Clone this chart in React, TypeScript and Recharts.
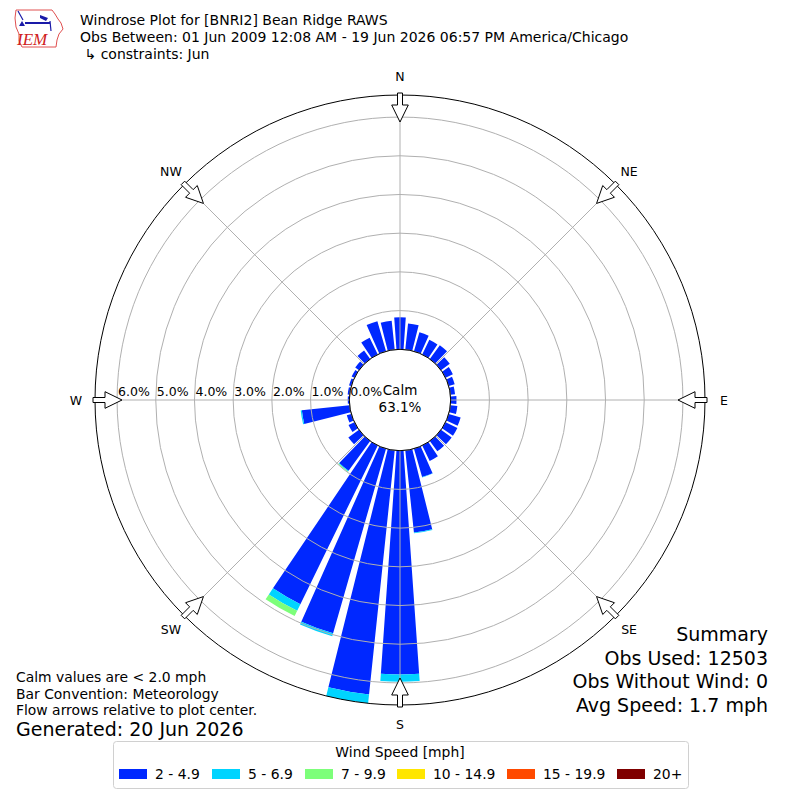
import React from 'react';
import { RadialBarChart, RadialBar, PolarAngleAxis, PolarRadiusAxis, PolarGrid } from 'recharts';

// ---- data ----
const directions = [0, 10, 20, 30, 40, 50, 60, 70, 80, 90, 100, 110, 120, 130, 140, 150, 160, 170,
  180, 190, 200, 210, 220, 230, 240, 250, 260, 270, 280, 290, 300, 310, 320, 330, 340, 350];
const speed2to5 = [0.83, 0.68, 0.51, 0.42, 0.44, 0.28, 0.21, 0.16, 0.12, 0.15, 0.18, 0.32, 0.34, 0.34, 0.33, 0.44, 0.76, 2.13,
  5.78, 6.34, 4.96, 4.56, 0.95, 0.34, 0.17, 0.12, 1.24, 0.04, 0.05, 0.06, 0.08, 0.12, 0.27, 0.48, 0.81, 0.75];
const speed5to7 = [0, 0, 0, 0, 0, 0, 0, 0, 0, 0, 0, 0, 0, 0, 0, 0, 0.01, 0.02,
  0.19, 0.23, 0.08, 0.19, 0.02, 0, 0, 0, 0.03, 0, 0, 0, 0, 0, 0, 0, 0, 0];
const speed7to10 = [0, 0, 0, 0, 0, 0, 0, 0, 0, 0, 0, 0, 0, 0, 0, 0, 0, 0,
  0, 0, 0, 0.15, 0.02, 0, 0, 0, 0, 0, 0, 0, 0, 0, 0, 0, 0, 0];
const radiusTicks = [0, 1, 2, 3, 4, 5, 6];
const binLabels = ['2 - 4.9', '5 - 6.9', '7 - 9.9', '10 - 14.9', '15 - 19.9', '20+'];
const binColors = ['#0028ff', '#00d4ff', '#7dff7a', '#ffe600', '#ff4a00', '#7f0000'];
const compassNames = ['N', 'NE', 'E', 'SE', 'S', 'SW', 'W', 'NW'];
const compassAngles = [0, 45, 90, 135, 180, 225, 270, 315];
const calmPercent = '63.1%';
const titleLines = [
  'Windrose Plot for [BNRI2] Bean Ridge RAWS',
  'Obs Between: 01 Jun 2009 12:08 AM - 19 Jun 2026 06:57 PM America/Chicago',
  ' \u21B3 constraints: Jun',
];
const noteLines = ['Calm values are < 2.0 mph', 'Bar Convention: Meteorology', 'Flow arrows relative to plot center.'];
const generated = 'Generated: 20 Jun 2026';
const summaryLines = ['Summary', 'Obs Used: 12503', 'Obs Without Wind: 0', 'Avg Speed: 1.7 mph'];

const data = directions.map((d, i) => ({ dir: d, s1: speed2to5[i], s2: speed5to7[i], s3: speed7to10[i] }));
const RMAX = Math.max(...data.map((r) => r.s1 + r.s2 + r.s3));

// plain linear scale (no "nice" rounding), so the outer circle equals the largest bar like the windrose library
function linearScale(d: number[] = [0, 1], r: number[] = [0, 1]): any {
  const s: any = (v: number) => r[0] + ((v - d[0]) / (d[1] - d[0])) * (r[1] - r[0]);
  s.domain = (nd?: number[]) => (nd === undefined ? d.slice() : linearScale(nd.slice(), r));
  s.range = (nr?: number[]) => (nr === undefined ? r.slice() : linearScale(d, nr.slice()));
  s.copy = () => linearScale(d, r);
  s.nice = () => s;
  s.ticks = () => radiusTicks.filter((t) => t >= d[0] && t <= d[1]);
  s.tickFormat = () => (v: number) => String(v);
  return s;
}

// ---- layout ----
const W = 800;
const H = 800;
const CX = 400;
const CY = 400;
const R_IN = 50.7;
const R_OUT = 305;
const FONT = '"DejaVu Sans", sans-serif';

const RadiusTick = (props: any) => {
  const { x, y, payload } = props;
  return (
    <text x={x + 1} y={y - 4} textAnchor="start" fontSize={12.5} fontFamily={FONT} fill="#000">
      {`${Number(payload.value).toFixed(1)}%`}
    </text>
  );
};

const arrowPath = (c: number) => {
  const rad = (c * Math.PI) / 180;
  const u = [Math.sin(rad), -Math.cos(rad)];
  const p = [Math.cos(rad), Math.sin(rad)];
  const pt = (r: number, o: number) => `${CX + u[0] * r + p[0] * o},${CY + u[1] * r + p[1] * o}`;
  const pts = [
    pt(R_OUT + 2, -2.5), pt(R_OUT - 10, -2.5), pt(R_OUT - 10, -8.3), pt(R_OUT - 27, 0),
    pt(R_OUT - 10, 8.3), pt(R_OUT - 10, 2.5), pt(R_OUT + 2, 2.5),
  ];
  return `M${pts.join(' L')} Z`;
};

const chartProps = {
  width: W,
  height: H,
  cx: CX,
  cy: CY,
  data,
  layout: 'centric' as const,
  innerRadius: R_IN,
  outerRadius: R_OUT,
  startAngle: 85,
  endAngle: -275,
  barCategoryGap: '10%',
  margin: { top: 0, right: 0, bottom: 0, left: 0 },
};

const Overlay = () => (
  <svg width={W} height={H} style={{ position: 'absolute', left: 0, top: 0, pointerEvents: 'none' }}>
    {/* calm circle edge + text */}
    <circle cx={CX} cy={CY} r={R_IN} fill="none" stroke="#000" strokeWidth={1} />
    <text x={CX} y={CY - 5} textAnchor="middle" fontSize={13.5} fontFamily={FONT}>Calm</text>
    <text x={CX} y={CY + 12} textAnchor="middle" fontSize={13.5} fontFamily={FONT}>{calmPercent}</text>
    {/* compass arrows and labels */}
    {compassAngles.map((c, i) => {
      const rad = (c * Math.PI) / 180;
      return (
        <g key={c}>
          <path d={arrowPath(c)} fill="#fff" stroke="#000" strokeWidth={1} />
          <text x={CX + Math.sin(rad) * 324} y={CY - Math.cos(rad) * 324 + 5} textAnchor="middle"
            fontSize={12.5} fontFamily={FONT}>{compassNames[i]}</text>
        </g>
      );
    })}
    {/* logo */}
    <g>
      <path d="M16,10 L52,10 L55,14 L58,19 L61,23 L63,29 L59,34 L57,40 L56,47 L22,47 L19,41 L19,34 L16,27 L15,18 Z"
        fill="none" stroke="#e05050" strokeWidth={1} />
      <line x1={25} y1={23} x2={50} y2={23} stroke="#1a1aa8" strokeWidth={2} />
      <line x1={18} y1={11} x2={23} y2={20} stroke="#1a1aa8" strokeWidth={1.2} />
      <path d="M40,15 L48,18 L46,21 L40,18 Z" fill="#1a1aa8" />
      <line x1={50} y1={21} x2={51} y2={31} stroke="#1a1aa8" strokeWidth={1.2} />
      <path d="M19,26 L22,21 L25,26 Z" fill="#1a1aa8" />
      <text x={17} y={45} fontSize={17} fontStyle="italic" fontFamily='"Liberation Serif", serif' fill="#d02020">IEM</text>
    </g>
    {/* title */}
    {titleLines.map((t, i) => (
      <text key={i} x={80} y={25 + i * 17} fontSize={14} fontFamily={FONT} style={{ whiteSpace: 'pre' }}>{t}</text>
    ))}
    {/* notes */}
    {noteLines.map((t, i) => (
      <text key={i} x={16} y={682 + i * 16.5} fontSize={13.9} fontFamily={FONT}>{t}</text>
    ))}
    <text x={16} y={736} fontSize={19} fontFamily={FONT}>{generated}</text>
    {summaryLines.map((t, i) => (
      <text key={i} x={768} y={641 + i * 23.7} fontSize={19} textAnchor="end" fontFamily={FONT}>{t}</text>
    ))}
    {/* legend */}
    <rect x={113.5} y={741.5} width={575} height={47} rx={3} fill="#fff" stroke="#d0d0d0" />
    <text x={400} y={757} textAnchor="middle" fontSize={13.9} fontFamily={FONT}>Wind Speed [mph]</text>
    {binLabels.map((l, i) => {
      const sx = [119, 212, 305, 397, 507, 617][i];
      return (
        <g key={l}>
          <rect x={sx} y={769} width={28} height={10} fill={binColors[i]} />
          <text x={sx + 36} y={779} fontSize={13.9} fontFamily={FONT}>{l}</text>
        </g>
      );
    })}
  </svg>
);

export default function App() {
  return (
    <div style={{ position: 'absolute', left: 0, top: 0, width: W, height: H, background: '#fff' }}>
      <RadialBarChart {...chartProps}>
        <PolarAngleAxis type="category" dataKey="dir" tick={false} axisLine={false} tickLine={false} />
        <PolarRadiusAxis type="number" scale={linearScale()} domain={[0, RMAX]} allowDataOverflow ticks={radiusTicks}
          angle={180} axisLine={false} tickLine={false} tick={false} />
        <RadialBar dataKey="s1" stackId="w" fill={binColors[0]} isAnimationActive={false} />
        <RadialBar dataKey="s2" stackId="w" fill={binColors[1]} isAnimationActive={false} />
        <RadialBar dataKey="s3" stackId="w" fill={binColors[2]} isAnimationActive={false} />
      </RadialBarChart>
      <div style={{ position: 'absolute', left: 0, top: 0, pointerEvents: 'none' }}>
        <RadialBarChart {...chartProps}>
          <PolarAngleAxis type="category" dataKey="dir" tick={false} axisLine={false} tickLine={false} />
          <PolarRadiusAxis type="number" scale={linearScale()} domain={[0, RMAX]} allowDataOverflow ticks={radiusTicks}
            angle={180} axisLine={false} tickLine={false} tick={<RadiusTick />} />
          <PolarGrid gridType="circle" stroke="#b0b0b0" polarAngles={[90, 45, 0, -45, -90, -135, -180, -225]} />
          <PolarGrid gridType="circle" stroke="#000" polarAngles={[]} polarRadius={[R_OUT]} />
        </RadialBarChart>
      </div>
      <Overlay />
    </div>
  );
}
